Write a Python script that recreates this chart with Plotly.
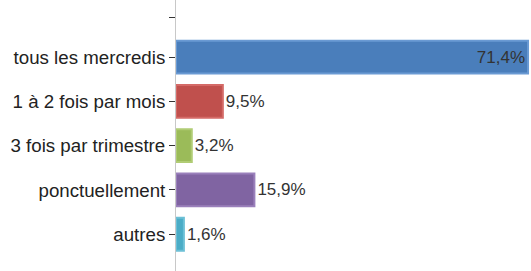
import plotly.graph_objects as go

categories = ["tous les mercredis", "1 à 2 fois par mois", "3 fois par trimestre", "ponctuellement", "autres"]
values = [71.4, 9.5, 3.2, 15.9, 1.6]
colors = ["#4a7ebb", "#c0504d", "#9bbb59", "#8064a2", "#4bacc6"]
borders = ["#6a9ad3", "#d46a67", "#b0cc74", "#9a80bb", "#6cc0d6"]

positions = list(range(len(categories)))
tick_vals = [-0.9] + positions
tick_text = [""] + categories

fig = go.Figure()
fig.add_trace(go.Bar(
    x=values,
    y=positions,
    orientation="h",
    width=0.74,
    marker=dict(color=colors, line=dict(color=borders, width=2)),
    texttemplate="%{x:.1f}%",
    textposition=["inside", "outside", "outside", "outside", "outside"],
    insidetextanchor="end",
    constraintext="none",
    textfont=dict(family="Liberation Sans", size=17, color="#333333"),
    cliponaxis=False,
))

fig.update_layout(
    width=531, height=271,
    margin=dict(l=176, r=0, t=0, b=0, autoexpand=False),
    paper_bgcolor="white",
    plot_bgcolor="white",
    separators=", ",
    showlegend=False,
    xaxis=dict(range=[0, 72], visible=False, fixedrange=True, automargin=False),
    yaxis=dict(
        range=[4.83, -1.29],
        tickvals=tick_vals,
        ticktext=tick_text,
        automargin=False,
        showgrid=False,
        zeroline=False,
        showline=True,
        linecolor="#c8c8c8",
        linewidth=1,
        ticks="outside",
        ticklen=6,
        tickcolor="#333333",
        tickfont=dict(family="Liberation Sans", size=18.7, color="#222222"),
        ticklabelstandoff=0,
    ),
)

fig.write_html("out.html", config={"displayModeBar": False},
               post_script="document.body.style.margin='0';")
